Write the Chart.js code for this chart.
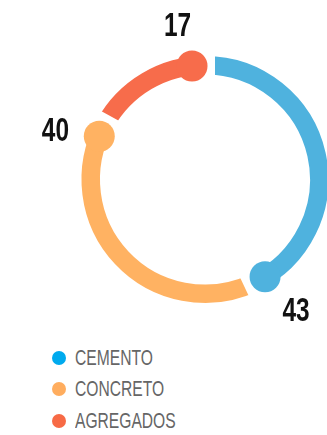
<!DOCTYPE html>
<html>
<head>
<meta charset="utf-8">
<script src="https://cdn.jsdelivr.net/npm/chart.js@4.4.1/dist/chart.umd.min.js"></script>
<style>
  html, body { margin: 0; padding: 0; background: #fff; }
  .wrap { position: relative; width: 327px; height: 435px; overflow: hidden; }
  #chart { position: absolute; left: 0; top: 0; }
  .legend-item { position: absolute; left: 0; height: 24px; width: 327px; }
  .legend-dot { position: absolute; left: 52px; top: 5px; width: 14px; height: 14px; border-radius: 50%; }
  .legend-text {
    position: absolute; left: 75px; top: 0;
    font: 22px "Liberation Sans", Arial, sans-serif; line-height: 24px;
    color: #666; white-space: nowrap;
    transform: scaleX(0.71); transform-origin: left center;
  }
</style>
</head>
<body>
<div class="wrap">
  <canvas id="chart" width="327" height="340"></canvas>
  <div id="legend"></div>
</div>
<script>
const categories = ['CEMENTO', 'CONCRETO', 'AGREGADOS'];
const values = [43, 40, 17];
const ringColors = ['#4fb2de', '#ffb262', '#f76c4b'];
const legendColors = ['#00aaee', '#ffad5e', '#f76a45'];

// ring geometry (px)
const GAP = 20;            // white border that opens the gaps
const RING_OUTER = 123.5;
const RING_INNER = 105;
const DOT_R = 15.5;
const DOT_SHIFT = 13;      // dot centre sits this far before the arc end
const LABEL_DIST = 158;
const LABEL_TURN = 3.5 * Math.PI / 180;

const radius = RING_OUTER + GAP / 2;
const cutout = ((RING_INNER - GAP / 2) / radius * 100) + '%';

// round caps + value labels at the end of each arc
const endCaps = {
  id: 'endCaps',
  afterDatasetsDraw(chart) {
    const ctx = chart.ctx;
    const meta = chart.getDatasetMeta(0);
    meta.data.forEach((arc, i) => {
      const { x, y, endAngle, innerRadius, outerRadius } =
        arc.getProps(['x', 'y', 'endAngle', 'innerRadius', 'outerRadius'], true);
      const mid = (innerRadius + outerRadius) / 2;
      const a = endAngle - DOT_SHIFT / mid;

      ctx.save();
      ctx.fillStyle = ringColors[i];
      ctx.beginPath();
      ctx.arc(x + Math.cos(a) * mid, y + Math.sin(a) * mid, DOT_R, 0, Math.PI * 2);
      ctx.fill();

      const la = a - LABEL_TURN;
      ctx.translate(x + Math.cos(la) * LABEL_DIST, y + Math.sin(la) * LABEL_DIST);
      ctx.scale(0.74, 1);
      ctx.font = 'bold 33px "Liberation Sans", Arial, sans-serif';
      ctx.fillStyle = '#111';
      ctx.textAlign = 'center';
      ctx.textBaseline = 'alphabetic';
      ctx.fillText(String(values[i]), 0, 12);
      ctx.restore();
    });
  }
};

new Chart(document.getElementById('chart'), {
  type: 'doughnut',
  data: {
    labels: categories,
    datasets: [{
      data: values,
      backgroundColor: ringColors,
      borderColor: '#fff',
      borderWidth: GAP,
      hoverOffset: 0
    }]
  },
  options: {
    responsive: false,
    animation: false,
    events: [],
    radius: radius,
    cutout: cutout,
    layout: { padding: { left: 83, right: 0, top: 19, bottom: 0 } },
    plugins: {
      legend: { display: false },
      tooltip: { enabled: false }
    }
  },
  plugins: [endCaps]
});

// html legend
const legend = document.getElementById('legend');
const rowTops = [346, 377, 408.5];
categories.forEach((name, i) => {
  const item = document.createElement('div');
  item.className = 'legend-item';
  item.style.top = rowTops[i] + 'px';
  item.innerHTML = `<span class="legend-dot" style="background:${legendColors[i]}"></span>` +
    `<span class="legend-text">${name}</span>`;
  legend.appendChild(item);
});
</script>
</body>
</html>
